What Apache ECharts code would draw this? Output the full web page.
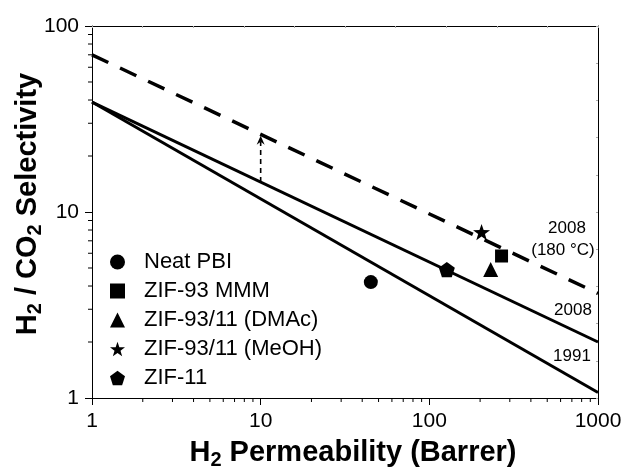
<!DOCTYPE html>
<html lang="en">
<head>
<meta charset="UTF-8">
<title>H2 / CO2 Robeson plot</title>
<style>
    html, body { margin: 0; padding: 0; background: #fff; }
    #main { width: 627px; height: 471px; }
</style>
</head>
<body>
<div id="main"></div>
<script src="https://cdn.jsdelivr.net/npm/echarts@6/dist/echarts.min.js"></script>
<script>
    // samples
    const sampleNames = ['Neat PBI', 'ZIF-93 MMM', 'ZIF-93/11 (DMAc)', 'ZIF-93/11 (MeOH)', 'ZIF-11'];
    const samplePerm = [45, 268, 231, 204, 127];
    const sampleSel = [4.2, 5.8, 4.9, 7.8, 4.9];

    // upper bounds
    const bound1991 = [[1, 39], [1000, 1.07]];
    const bound2008 = [[1, 39], [1000, 2.0]];
    const bound2008hot = [[1, 70], [1000, 3.65]];

    // dashed arrow at P = 10 : [x, from, to]
    const arrow = [10, 14.5, 26];

    // minor tick positions
    const minorX = [2, 3, 4, 5, 6, 7, 8, 9, 20, 30, 40, 50, 60, 70, 80, 90, 200, 300, 400, 500, 600, 700, 800, 900];
    const minorY = [2, 3, 4, 5, 6, 7, 8, 9, 20, 30, 40, 50, 60, 70, 80, 90];

    const FONT = 'Liberation Sans, Arial, sans-serif';
    const STAR = 'path://M0,-10L2.35,-3.24L9.51,-3.09L3.8,1.24L5.88,8.09L0,4L-5.88,8.09L-3.8,1.24L-9.51,-3.09L-2.35,-3.24Z';
    const PENTA = 'path://M0,-10L9.51,-3.09L5.88,8.09L-5.88,8.09L-9.51,-3.09Z';
    const symbols = ['circle', 'rect', 'triangle', STAR, PENTA];
    const sizes = [14, 13, 15, 17, 16];

    let myChart = echarts.init(document.getElementById('main'));

    function minorTicks(vals, axis) {
        return {
            type: 'custom', silent: true, clip: false, z: 5,
            xAxisIndex: 0, yAxisIndex: 0,
            data: vals.map(v => axis === 'x' ? [v, 1] : [1, v]),
            renderItem: function (params, api) {
                let p = api.coord([api.value(0), api.value(1)]);
                let shape = axis === 'x'
                    ? {x1: p[0], y1: p[1], x2: p[0], y2: p[1] + 4}
                    : {x1: p[0], y1: p[1], x2: p[0] - 4, y2: p[1]};
                return {type: 'line', shape: shape, style: {stroke: '#000', lineWidth: 1}};
            }
        };
    }

    function boundLine(data, dashed) {
        return {
            type: 'line', xAxisIndex: 0, yAxisIndex: 0, data: data,
            symbol: 'none', silent: true, z: 3,
            lineStyle: {color: '#000', width: dashed ? 3.5 : 3, type: dashed ? [18, 13] : 'solid'}
        };
    }

    let series = [
        boundLine(bound1991, false),
        boundLine(bound2008, false),
        boundLine(bound2008hot, true),
        {
            // dashed arrow
            type: 'custom', silent: true, z: 4, xAxisIndex: 0, yAxisIndex: 0,
            data: [arrow],
            renderItem: function (params, api) {
                let a = api.coord([api.value(0), api.value(1)]);
                let b = api.coord([api.value(0), api.value(2)]);
                let x = b[0], y = b[1] + 1;
                return {
                    type: 'group',
                    children: [
                        {type: 'line', shape: {x1: a[0], y1: a[1], x2: x, y2: y + 6},
                            style: {stroke: '#000', lineWidth: 1.6, lineDash: [5, 4]}},
                        {type: 'polygon', shape: {points: [[x, y], [x + 4, y + 9], [x, y + 6], [x - 4, y + 9]]},
                            style: {fill: '#000'}}
                    ]
                };
            }
        },
        minorTicks(minorX, 'x'),
        minorTicks(minorY, 'y')
    ];
    sampleNames.forEach((name, i) => {
        series.push({
            name: name, type: 'scatter', xAxisIndex: 0, yAxisIndex: 0, z: 6,
            symbol: symbols[i], symbolSize: sizes[i], symbolKeepAspect: true,
            itemStyle: {color: '#000', opacity: 1},
            data: [[samplePerm[i], sampleSel[i]]]
        });
    });

    const titleRich = {
        m: {fontSize: 29, fontWeight: 'bold', fontFamily: FONT, fill: '#000', lineHeight: 34, verticalAlign: 'middle'},
        s: {fontSize: 20, fontWeight: 'bold', fontFamily: FONT, fill: '#000', lineHeight: 34, verticalAlign: 'bottom'}
    };
    const noteStyle = {fontSize: 17, fontFamily: FONT, fill: '#000', align: 'center', verticalAlign: 'middle'};

    const option = {
        animation: false,
        backgroundColor: '#fff',
        textStyle: {fontFamily: FONT},
        grid: {left: 92, top: 26, right: 29, bottom: 73},
        legend: {
            orient: 'vertical', left: 105, top: 246,
            itemWidth: 15, itemHeight: 15, itemGap: 7,
            selectedMode: false,
            textStyle: {fontSize: 22, fontFamily: FONT, color: '#000', lineHeight: 20, padding: [0, 0, 0, 14]},
            data: sampleNames.map((n, i) => ({name: n, icon: symbols[i]}))
        },
        xAxis: [
            {
                type: 'log', logBase: 10, min: 1, max: 1000, position: 'bottom',
                axisLine: {lineStyle: {color: '#000', width: 1}},
                axisTick: {inside: false, length: 7, lineStyle: {color: '#000'}},
                axisLabel: {fontSize: 21, color: '#000', margin: 13, fontFamily: FONT, formatter: v => String(v)},
                splitLine: {show: false}
            },
            {
                type: 'value', min: 0, max: 10, interval: 1, position: 'top',
                axisLine: {show: true, lineStyle: {color: '#000', width: 1}},
                axisTick: {inside: true, length: 2, lineStyle: {color: '#aaa'}},
                axisLabel: {show: false}, splitLine: {show: false}
            }
        ],
        yAxis: [
            {
                type: 'log', logBase: 10, min: 1, max: 100, position: 'left',
                axisLine: {show: true, lineStyle: {color: '#000', width: 1}},
                axisTick: {show: true, inside: false, length: 7, lineStyle: {color: '#000'}},
                axisLabel: {fontSize: 21, color: '#000', margin: 13, fontFamily: FONT, formatter: v => String(v)},
                splitLine: {show: false}
            },
            {
                type: 'value', min: 0, max: 10, interval: 1, position: 'right',
                axisLine: {show: true, lineStyle: {color: '#000', width: 1}},
                axisTick: {show: true, inside: true, length: 2, lineStyle: {color: '#aaa'}},
                axisLabel: {show: false}, splitLine: {show: false}
            }
        ],
        graphic: [
            {
                type: 'text', x: 353, y: 453,
                style: {text: '{m|H}{s|2}{m| Permeability (Barrer)}', rich: titleRich, align: 'center', verticalAlign: 'middle'}
            },
            {
                type: 'text', x: 28, y: 204, rotation: Math.PI / 2,
                style: {text: '{m|H}{s|2}{m| / CO}{s|2}{m| Selectivity}', rich: titleRich, align: 'center', verticalAlign: 'middle'}
            },
            {type: 'text', x: 567, y: 228, style: Object.assign({text: '2008'}, noteStyle)},
            {type: 'text', x: 563, y: 250, style: Object.assign({text: '(180 °C)'}, noteStyle)},
            {type: 'text', x: 573, y: 310, style: Object.assign({text: '2008'}, noteStyle)},
            {type: 'text', x: 572, y: 356, style: Object.assign({text: '1991'}, noteStyle)}
        ],
        series: series
    };

    myChart.setOption(option);
</script>
</body>
</html>
